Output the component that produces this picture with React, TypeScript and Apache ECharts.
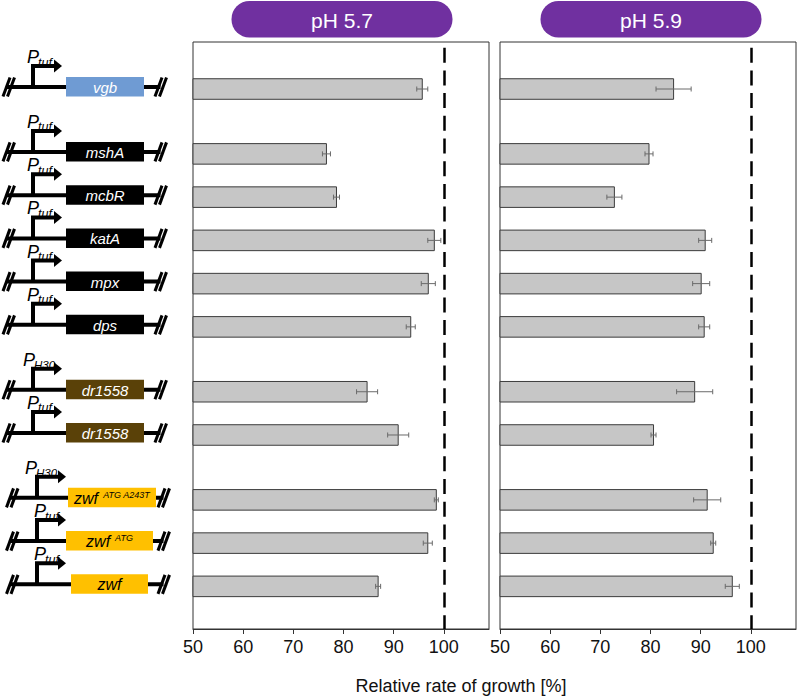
import React, { useEffect, useRef } from 'react';
import * as echarts from 'echarts';

// ---------- data ----------
const genes = ['vgb', 'mshA', 'mcbR', 'katA', 'mpx', 'dps', 'dr1558', 'dr1558', 'zwf', 'zwf', 'zwf'];
const geneSup = ['', '', '', '', '', '', '', '', 'ATG A243T', 'ATG', ''];
const promoters = ['tuf', 'tuf', 'tuf', 'tuf', 'tuf', 'tuf', 'H30', 'tuf', 'H30', 'tuf', 'tuf'];
const groupOf = [0, 1, 1, 1, 1, 1, 2, 2, 3, 3, 3];
const ph57 = [95.7, 76.6, 78.6, 98.1, 96.9, 93.4, 84.7, 90.9, 98.5, 96.8, 86.9];
const ph57Err = [1.1, 0.8, 0.6, 1.3, 1.4, 0.9, 2.1, 2.1, 0.4, 0.9, 0.5];
const ph59 = [84.6, 79.7, 72.8, 90.9, 90.1, 90.7, 88.8, 80.6, 91.3, 92.5, 96.3];
const ph59Err = [3.5, 0.8, 1.5, 1.3, 1.7, 1.1, 3.6, 0.5, 2.7, 0.5, 1.4];
const xTicks = [50, 60, 70, 80, 90, 100];
const panelTitles = ['pH 5.7', 'pH 5.9'];
const axisTitle = 'Relative rate of growth [%]';
const referenceValue = 100;

// ---------- styles / layout ----------
const FONT = "'Liberation Sans', Arial, sans-serif";
const geneFill = ['#6f9bd3', '#000000', '#5a4108', '#ffc000'];
const geneTextColor = ['#ffffff', '#ffffff', '#ffffff', '#000000'];
const Y_MIN = -1.087;
const Y_MAX = 12.486;
const X_MIN = 50;
const X_MAX = 109;
const GRID_TOP = 42;
const GRID_H = 587;

const rowPos = (i: number) => i + 0.5 * groupOf[i];

const barItem = (params: any, api: any) => {
  const v = api.value(0);
  const y = api.value(1);
  const e = api.value(2);
  const base = api.coord([X_MIN, y]);
  const end = api.coord([v, y]);
  const lo = api.coord([v - e, y]);
  const hi = api.coord([v + e, y]);
  const h = api.size([0, 0.475])[1];
  const cy = end[1];
  const err = { stroke: '#6a6a6a', lineWidth: 1 };
  return {
    type: 'group',
    children: [
      {
        type: 'rect',
        shape: { x: base[0], y: cy - h / 2, width: end[0] - base[0], height: h },
        style: { fill: '#c6c6c6', stroke: '#3c3c3c', lineWidth: 1 },
      },
      { type: 'line', shape: { x1: lo[0], y1: cy, x2: hi[0], y2: cy }, style: err },
      { type: 'line', shape: { x1: lo[0], y1: cy - 2.5, x2: lo[0], y2: cy + 2.5 }, style: err },
      { type: 'line', shape: { x1: hi[0], y1: cy - 2.5, x2: hi[0], y2: cy + 2.5 }, style: err },
    ],
  };
};

const boxSpans: Record<number, [number, number]> = { 8: [68, 156], 9: [66, 153], 10: [71, 148] };

const diagramItem = (params: any, api: any) => {
  const i = params.dataIndex;
  const g = groupOf[i];
  const c = api.coord([0, api.value(1)]);
  const X = c[0];
  const Y = c[1] - 2;
  const isZwf = g === 3;
  const dx = isZwf ? 4 : 0;
  const leftSl = isZwf ? [10, 14.5] : [6.5, 11];
  const rightSl = isZwf ? [161.5, 166] : [158.5, 163];
  const box = boxSpans[i] || [66, 144];
  const children: any[] = [];
  const black = '#000';
  // backbone
  children.push({
    type: 'line',
    shape: { x1: X + leftSl[0], y1: Y, x2: X + rightSl[0] + 2, y2: Y },
    style: { stroke: black, lineWidth: 4 },
  });
  // slashes
  [...leftSl, ...rightSl].forEach((sx) => {
    children.push({
      type: 'line',
      shape: { x1: X + sx - 3.5, y1: Y + 9.5, x2: X + sx + 3.5, y2: Y - 9.5 },
      style: { stroke: black, lineWidth: 3 },
    });
  });
  // promoter arrow
  const px = X + 33 + dx;
  children.push({
    type: 'polyline',
    shape: { points: [[px, Y + 1], [px, Y - 21], [px + 21, Y - 21]] },
    style: { stroke: black, lineWidth: 4, fill: null, lineJoin: 'miter' },
  });
  children.push({
    type: 'polygon',
    shape: { points: [[px + 21, Y - 27.5], [px + 29, Y - 21], [px + 21, Y - 14.5]] },
    style: { fill: black },
  });
  // promoter label
  const prom = promoters[i];
  const pLeft = prom === 'tuf' ? (isZwf ? 34 : 27) : isZwf ? 25 : 23;
  children.push({
    type: 'text',
    style: {
      x: X + pLeft,
      y: Y - 30,
      text: 'P',
      fontSize: 18,
      fontStyle: 'italic',
      fontFamily: FONT,
      fill: black,
      align: 'left',
      verticalAlign: 'middle',
    },
  });
  children.push({
    type: 'text',
    style: {
      x: X + pLeft + 11,
      y: Y - 24.5,
      text: prom,
      fontSize: prom === 'tuf' ? 12.5 : 11.5,
      fontStyle: 'italic',
      fontFamily: FONT,
      fill: black,
      align: 'left',
      verticalAlign: 'middle',
    },
  });
  // gene box
  children.push({
    type: 'rect',
    shape: { x: X + box[0], y: Y - 10, width: box[1] - box[0], height: 19.5 },
    style: { fill: geneFill[g] },
  });
  const sup = geneSup[i];
  children.push({
    type: 'text',
    style: {
      x: X + (box[0] + box[1]) / 2,
      y: Y + 0.5,
      text: sup ? `{m|${genes[i]}}{s|${sup}}` : `{m|${genes[i]}}`,
      rich: {
        m: {
          fontSize: isZwf ? 16 : 15,
          fontStyle: 'italic',
          fontFamily: FONT,
          fill: geneTextColor[g],
          verticalAlign: 'middle',
        },
        s: {
          fontSize: 9,
          fontStyle: 'italic',
          fontFamily: FONT,
          fill: geneTextColor[g],
          verticalAlign: 'top',
          padding: [0, 0, 0, 5],
        },
      },
      align: 'center',
      verticalAlign: 'middle',
    },
  });
  return { type: 'group', children };
};

const xAxisFor = (gridIndex: number) => ({
  type: 'value',
  gridIndex,
  min: X_MIN,
  max: X_MAX,
  interval: 10,
  axisLine: { show: true, onZero: false, lineStyle: { color: '#333', width: 1 } },
  axisTick: { show: true, inside: false, length: 5, lineStyle: { color: '#333' }, customValues: xTicks },
  axisLabel: {
    show: true,
    customValues: xTicks,
    fontSize: 18,
    color: '#111',
    fontFamily: FONT,
    margin: 9,
  },
  splitLine: { show: false },
});

const yAxisFor = (gridIndex: number) => ({
  type: 'value',
  gridIndex,
  min: Y_MIN,
  max: Y_MAX,
  inverse: true,
  show: false,
});

const refLine = {
  silent: true,
  symbol: ['none', 'none'],
  label: { show: false },
  lineStyle: { color: '#000', width: 2.5, type: [15, 7.7], dashOffset: 17 },
  data: [{ xAxis: referenceValue }],
};

export default function App() {
  const ref = useRef<HTMLDivElement>(null);
  useEffect(() => {
    document.body.style.margin = '0';
    if (!ref.current) return;
    const chart = echarts.init(ref.current, undefined, { renderer: 'svg' });
    const rows = genes.map((_, i) => i);
    const pillW = 221;
    const pillCenters = [342, 651];
    chart.setOption({
      animation: false,
      backgroundColor: '#ffffff',
      grid: [
        { left: 0, top: GRID_TOP, width: 190, height: GRID_H, show: false },
        { left: 193, top: GRID_TOP, width: 296, height: GRID_H, show: true, borderColor: '#333', borderWidth: 1, backgroundColor: 'transparent' },
        { left: 500, top: GRID_TOP, width: 296, height: GRID_H, show: true, borderColor: '#333', borderWidth: 1, backgroundColor: 'transparent' },
      ],
      xAxis: [
        { type: 'value', gridIndex: 0, min: 0, max: 190, show: false },
        xAxisFor(1),
        xAxisFor(2),
      ],
      yAxis: [yAxisFor(0), yAxisFor(1), yAxisFor(2)],
      series: [
        {
          type: 'custom',
          name: 'constructs',
          xAxisIndex: 0,
          yAxisIndex: 0,
          renderItem: diagramItem,
          data: rows.map((i) => [0, rowPos(i)]),
          encode: { x: 0, y: 1 },
          silent: true,
        },
        {
          type: 'custom',
          name: panelTitles[0],
          xAxisIndex: 1,
          yAxisIndex: 1,
          renderItem: barItem,
          data: rows.map((i) => [ph57[i], rowPos(i), ph57Err[i]]),
          encode: { x: 0, y: 1 },
          markLine: refLine,
        },
        {
          type: 'custom',
          name: panelTitles[1],
          xAxisIndex: 2,
          yAxisIndex: 2,
          renderItem: barItem,
          data: rows.map((i) => [ph59[i], rowPos(i), ph59Err[i]]),
          encode: { x: 0, y: 1 },
          markLine: refLine,
        },
      ],
      graphic: [
        ...panelTitles.map((t, k) => ({
          type: 'group',
          children: [
            {
              type: 'rect',
              shape: { x: pillCenters[k] - pillW / 2, y: 1, width: pillW, height: 36.5, r: 18 },
              style: { fill: '#7030a0' },
            },
            {
              type: 'text',
              style: {
                x: pillCenters[k],
                y: 20,
                text: t,
                fontSize: 21,
                fontFamily: FONT,
                fill: '#ffffff',
                align: 'center',
                verticalAlign: 'middle',
              },
            },
          ],
        })),
        {
          type: 'text',
          style: {
            x: 461,
            y: 686,
            text: axisTitle,
            fontSize: 18,
            fontFamily: FONT,
            fill: '#111',
            align: 'center',
            verticalAlign: 'middle',
          },
        },
      ],
    });
    return () => chart.dispose();
  }, []);
  return <div ref={ref} style={{ width: 797, height: 696 }} />;
}
